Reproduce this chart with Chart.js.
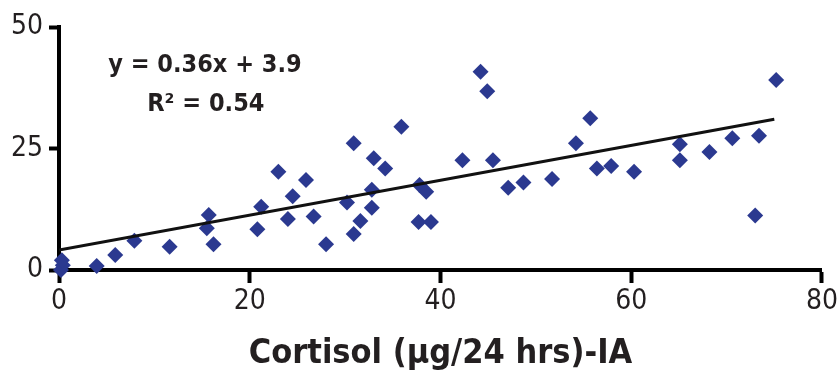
<!DOCTYPE html>
<html>
<head>
<meta charset="utf-8">
<script src="https://cdn.jsdelivr.net/npm/chart.js@4.4.1/dist/chart.umd.min.js"></script>
<style>
  html, body { margin: 0; padding: 0; background: #fff; }
  #wrap { width: 840px; height: 375px; }
</style>
</head>
<body>
<div id="wrap"><canvas id="myChart" width="840" height="375"></canvas></div>
<script>
// cortisol (x) vs second measure (y)
const cortisol = [
  0.2, 0.4, 0.3, 3.95, 5.9, 7.9, 11.6, 15.7, 15.5, 16.2,
  20.8, 21.2, 23.0, 24.0, 24.5, 25.9, 26.7, 28.0, 30.2, 30.9,
  30.9, 31.6, 32.8, 32.8, 33.0, 34.2, 35.9, 37.8, 38.5, 37.7,
  39.0, 42.3, 44.2, 44.9, 45.5, 47.1, 48.7, 51.7, 54.2, 55.7,
  56.4, 57.9, 60.3, 65.1, 65.1, 68.2, 70.6, 73.0, 73.4, 75.2,
]
const measured = [
  0.0, 1.0, 2.0, 0.8, 3.1, 6.0, 4.8, 11.3, 8.6, 5.3,
  8.4, 13.0, 20.2, 10.5, 15.2, 18.5, 11.0, 5.3, 13.9, 26.1,
  7.4, 10.1, 16.5, 12.8, 23.0, 20.9, 29.5, 17.5, 16.1, 9.9,
  9.9, 22.6, 40.8, 36.8, 22.6, 16.9, 18.0, 18.7, 26.1, 31.2,
  20.9, 21.4, 20.2, 25.9, 22.6, 24.3, 27.1, 11.2, 27.6, 39.1,
]

// regression line end points
const fitX = [0, 75]
const fitY = [4.1, 31.0]

const xTicks = [0, 20, 40, 60, 80]
const yTicks = [0, 25, 50]

const equationLines = ['y = 0.36x + 3.9', 'R\u00B2 = 0.54']
const xTitle = 'Cortisol (\u00B5g/24 hrs)-IA'

const narrow = "'Liberation Sans Narrow', 'DejaVu Sans Condensed', sans-serif"

const canvas = document.getElementById('myChart')

const equationText = {
  id: 'equationText',
  afterDatasetsDraw(chart) {
    const { ctx, scales: { x, y } } = chart
    ctx.save()
    ctx.fillStyle = '#231f20'
    ctx.textAlign = 'center'
    ctx.textBaseline = 'middle'
    ctx.font = `bold 25px ${narrow}`
    ctx.fillText(equationLines[0], x.getPixelForValue(15.3), y.getPixelForValue(42.0))
    ctx.fillText(equationLines[1], x.getPixelForValue(15.4), y.getPixelForValue(34.0))
    ctx.restore()
  },
}

const points = cortisol.map((c, i) => ({ x: c, y: measured[i] }))
const fitLine = fitX.map((c, i) => ({ x: c, y: fitY[i] }))

const config = {
  type: 'scatter',
  data: {
    datasets: [
      {
        type: 'line',
        data: fitLine,
        borderColor: '#111',
        borderWidth: 3,
        pointRadius: 0,
        fill: false,
      },
      {
        data: points,
        pointStyle: 'rectRot',
        pointRadius: 8,
        backgroundColor: '#2b3990',
        borderColor: '#2b3990',
        borderWidth: 0,
        clip: false,
      },
    ],
  },
  options: {
    responsive: false,
    animation: false,
    layout: { padding: { top: 27, right: 18, left: 0, bottom: 0 } },
    plugins: {
      legend: { display: false },
      tooltip: { enabled: false },
    },
    scales: {
      x: {
        type: 'linear',
        min: 0,
        max: 80,
        afterFit: (scale) => { scale.height = 105 },
        afterBuildTicks: (scale) => { scale.ticks = xTicks.map((v) => ({ value: v })) },
        border: { display: true, color: '#000', width: 4 },
        grid: { drawOnChartArea: false, drawTicks: true, tickLength: 13, tickWidth: 4, tickColor: '#000' },
        ticks: { color: '#231f20', padding: 2, font: { family: narrow, size: 28 } },
        title: {
          display: true,
          text: xTitle,
          color: '#231f20',
          font: { family: narrow, size: 34, weight: 'bold', lineHeight: 1.2 },
          padding: { top: 0, bottom: 0 },
        },
      },
      y: {
        type: 'linear',
        min: 0,
        max: 50,
        afterFit: (scale) => { scale.width = 59 },
        afterBuildTicks: (scale) => { scale.ticks = yTicks.map((v) => ({ value: v })) },
        border: { display: true, color: '#000', width: 4 },
        grid: { drawOnChartArea: false, drawTicks: true, tickLength: 10, tickWidth: 4, tickColor: '#000' },
        ticks: { color: '#231f20', padding: 6, font: { family: narrow, size: 28 } },
      },
    },
  },
  plugins: [equationText],
}

const myChart = new Chart(canvas, config)
</script>
</body>
</html>
